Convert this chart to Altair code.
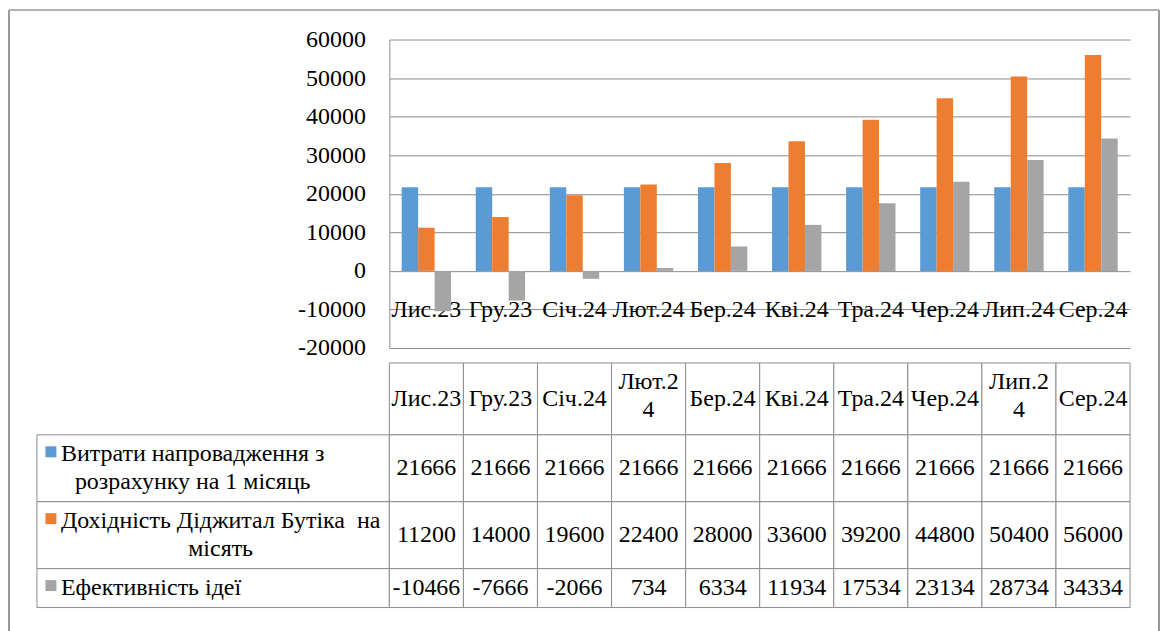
import altair as alt
import pandas as pd

categories = ["Лис.23", "Гру.23", "Січ.24", "Лют.24", "Бер.24",
              "Кві.24", "Тра.24", "Чер.24", "Лип.24", "Сер.24"]
header_labels = ["Лис.23", "Гру.23", "Січ.24", "Лют.2\n4", "Бер.24",
                 "Кві.24", "Тра.24", "Чер.24", "Лип.2\n4", "Сер.24"]
series_names = ["Витрати напровадження з розрахунку на 1 місяць",
                "Дохідність Діджитал Бутіка  на місять",
                "Ефективність ідеї"]
table_labels = ["Витрати напровадження з\nрозрахунку на 1 місяць",
                "Дохідність Діджитал Бутіка\u00a0 на\nмісять",
                "Ефективність ідеї"]
costs = [21666, 21666, 21666, 21666, 21666, 21666, 21666, 21666, 21666, 21666]
income = [11200, 14000, 19600, 22400, 28000, 33600, 39200, 44800, 50400, 56000]
effect = [-10466, -7666, -2066, 734, 6334, 11934, 17534, 23134, 28734, 34334]
series_values = [costs, income, effect]
colors = ["#5B9BD5", "#ED7D31", "#A5A5A5"]
y_ticks = [-20000, -10000, 0, 10000, 20000, 30000, 40000, 50000, 60000]

FONT = "Liberation Serif"
FS = 24
GRID = "#8c8c8c"
TABLE = "#8c8c8c"
FRAME = "#9a9a9a"
LH = 28

W1, W2 = 353, 742
H_BAR, H_GAP, H_HEAD = 309, 15, 72
row_heights = [67, 67, 39]
# legend-label layout (align, x) for the left column of the data table
label_layout = [("center", 156), ("center", 184), ("left", 24)]

rows = []
for s, vals in zip(series_names, series_values):
    for c, v in zip(categories, vals):
        rows.append({"cat": c, "series": s, "value": v})
df = pd.DataFrame(rows)

# ---------- bar chart ----------
bars = alt.Chart(df).mark_bar().encode(
    x=alt.X("cat:N", sort=categories,
            scale=alt.Scale(paddingInner=1 / 3, paddingOuter=1 / 6),
            axis=alt.Axis(title=None, orient="bottom", offset=-39, labelPadding=0,
                          tickSize=0, ticks=False, domain=False, grid=False,
                          labelAngle=0, labelBaseline="middle", labelFont=FONT,
                          labelFontSize=FS, labelColor="black")),
    xOffset=alt.XOffset("series:N", sort=series_names,
                        scale=alt.Scale(paddingInner=0, paddingOuter=0)),
    y=alt.Y("value:Q", scale=alt.Scale(domain=[-20000, 60000], nice=False, zero=False),
            axis=alt.Axis(title=None, values=y_ticks, labelExpr="datum.value + ''",
                          grid=True, gridColor=GRID, gridWidth=1, domain=True,
                          domainColor=GRID, ticks=False, labelPadding=24,
                          labelFont=FONT, labelFontSize=FS, labelColor="black")),
    color=alt.Color("series:N", sort=series_names,
                    scale=alt.Scale(domain=series_names, range=colors), legend=None),
)

one = pd.DataFrame({"a": [0]})
frame_left = alt.Chart(one).mark_rule(color=FRAME, strokeWidth=2).encode(
    x=alt.value(-381), y=alt.value(-29.5), y2=alt.value(640))
frame_top = alt.Chart(one).mark_rule(color=FRAME, strokeWidth=1.5).encode(
    x=alt.value(-381), x2=alt.value(771), y=alt.value(-29.5))
frame_right = alt.Chart(one).mark_rule(color=FRAME, strokeWidth=2).encode(
    x=alt.value(771), y=alt.value(-29.5), y2=alt.value(640))

bar_chart = alt.layer(bars, frame_left, frame_top, frame_right).properties(
    width=W2, height=H_BAR)


def blank(w, h):
    return alt.Chart(one).mark_point(opacity=0).properties(width=w, height=h)


x_table = alt.X("cat:N", sort=categories,
                scale=alt.Scale(paddingInner=0, paddingOuter=0), axis=None)

# ---------- table header ----------
head_df = pd.DataFrame({"cat": categories, "label": header_labels})
head_df["lines"] = head_df["label"].str.count("\n") + 1
head_cells = alt.Chart(head_df).mark_rect(fill="white", stroke=TABLE, strokeWidth=1).encode(
    x=x_table)
head_text1 = alt.Chart(head_df).transform_filter("datum.lines == 1").mark_text(
    font=FONT, fontSize=FS, color="black", baseline="middle").encode(
    x=x_table, text="label:N")
head_text2 = alt.Chart(head_df).transform_filter("datum.lines == 2").mark_text(
    font=FONT, fontSize=FS, color="black", lineBreak="\n", lineHeight=LH,
    baseline="middle", dy=-17).encode(
    x=x_table, text="label:N")
header = alt.layer(head_cells, head_text1, head_text2).properties(width=W2, height=H_HEAD)

# ---------- table rows ----------
charts = [blank(W1, H_BAR), bar_chart, blank(W1, H_GAP), blank(W2, H_GAP),
          blank(W1, H_HEAD), header]

for i, s in enumerate(series_names):
    h = row_heights[i]
    sdf = df[df["series"] == s]
    cells = alt.Chart(sdf).mark_rect(fill="white", stroke=TABLE, strokeWidth=1).encode(
        x=x_table)
    txt = alt.Chart(sdf).transform_calculate(t="toString(datum.value)").mark_text(
        font=FONT, fontSize=FS, color="black", baseline="middle").encode(
        x=x_table, text="t:N")
    row_chart = alt.layer(cells, txt).properties(width=W2, height=h)

    ldf = pd.DataFrame({"series": [s], "label": [table_labels[i]]})
    x_lab = alt.X("series:N", scale=alt.Scale(paddingInner=0, paddingOuter=0), axis=None)
    lcell = alt.Chart(ldf).mark_rect(fill="white", stroke=TABLE, strokeWidth=1).encode(
        x=x_lab)
    nlines = table_labels[i].count("\n") + 1
    sw_y = h / 2 - (nlines - 1) * 14 - 2.5
    swatch = alt.Chart(ldf).mark_point(shape="square", filled=True, size=121,
                                       opacity=1).encode(
        x=alt.value(14), y=alt.value(sw_y),
        color=alt.Color("series:N", scale=alt.Scale(domain=series_names, range=colors),
                        legend=None))
    align, lx = label_layout[i]
    ltext = alt.Chart(ldf).mark_text(font=FONT, fontSize=FS, color="black", align=align,
                                     baseline="middle", lineBreak="\n", lineHeight=LH,
                                     dy=-(nlines - 1) * LH / 2).encode(
        x=alt.value(lx), text="label:N")
    label_chart = alt.layer(lcell, swatch, ltext).properties(width=W1, height=h)
    charts += [label_chart, row_chart]

chart = alt.concat(*charts, columns=2, spacing=0, bounds="flush").properties(
    padding=0
).configure_view(stroke=None)

chart.save("out.html", embed_options={"renderer": "svg", "actions": False})
